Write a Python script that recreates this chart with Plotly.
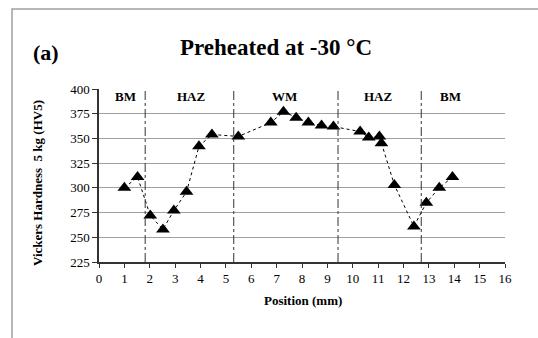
import plotly.graph_objects as go

position_mm = [1.0, 1.52, 2.02, 2.52, 2.95, 3.45, 3.94, 4.45, 5.49, 6.77, 7.27, 7.77, 8.25,
               8.77, 9.24, 10.29, 10.63, 11.05, 11.13, 11.64, 12.41, 12.9, 13.41, 13.93]
hardness_hv5 = [300, 311, 272, 258, 277, 296, 342, 354, 352, 366, 377, 371, 366,
                363, 362, 357, 351, 352, 345, 303, 261, 285, 300, 311]

zone_boundaries = [1.82, 5.31, 9.42, 12.7]
zone_labels = ["BM", "HAZ", "WM", "HAZ", "BM"]
zone_label_x = [1.06, 3.65, 7.3, 11.02, 13.86]

x_ticks = list(range(0, 17))
y_ticks = list(range(225, 401, 25))

FONT = "Liberation Serif, Times New Roman, serif"

# plot area in pixels
L, R, T, B = 99, 505, 89, 262
W, H = R - L, B - T


def px(xp):
    return (xp - L) / W


def py(yp):
    return 1 - (yp - T) / H


fig = go.Figure()
fig.add_trace(go.Scatter(
    x=position_mm, y=hardness_hv5, mode="lines+markers",
    line=dict(color="black", width=1, dash="dot"),
    marker=dict(symbol="triangle-up", size=12, color="black"),
    showlegend=False, hoverinfo="x+y",
))

for xb in zone_boundaries:
    fig.add_shape(type="line", x0=xb, x1=xb, y0=225, y1=400, xref="x", yref="y",
                  line=dict(color="#333333", width=1, dash="dashdot"))

for lbl, lx in zip(zone_labels, zone_label_x):
    fig.add_annotation(x=lx, y=392, text="<b>%s</b>" % lbl, showarrow=False,
                       xanchor="center", yanchor="middle",
                       font=dict(family=FONT, size=13, color="black"))


def label(x, y, text, size, angle=0):
    fig.add_annotation(x=px(x), y=py(y), xref="paper", yref="paper",
                       text=text, showarrow=False, textangle=angle,
                       xanchor="center", yanchor="middle",
                       font=dict(family=FONT, size=size, color="black"))


label(276, 47, "<b>Preheated at -30 °C</b>", 23)
label(45.5, 52, "<b>(a)</b>", 22)
label(37, 183, "<b>Vickers Hardness  5 kg (HV5)</b>", 13, -90)
label(303, 300.5, "<b>Position (mm)</b>", 13)

# outer frame
fig.add_shape(type="rect", xref="paper", yref="paper",
              x0=px(12), x1=px(545), y0=py(345), y1=py(9),
              line=dict(color="#a0a0a0", width=1.5), fillcolor="rgba(0,0,0,0)", layer="below")

fig.update_layout(
    width=538, height=338,
    margin=dict(l=L, r=538 - R, t=T, b=338 - B),
    paper_bgcolor="white", plot_bgcolor="white",
    font=dict(family=FONT, size=13, color="black"),
    xaxis=dict(range=[0, 16], tickvals=x_ticks, showgrid=False, zeroline=False,
               showline=True, linecolor="#333333", linewidth=1.5,
               ticks="outside", ticklen=4, tickcolor="#333333",
               tickfont=dict(family=FONT, size=13)),
    yaxis=dict(range=[225, 400], tickvals=y_ticks, showgrid=True, gridcolor="#a0a0a0",
               gridwidth=1, zeroline=False,
               showline=True, linecolor="#333333", linewidth=1.5,
               ticks="outside", ticklen=5, tickcolor="#333333",
               tickfont=dict(family=FONT, size=13)),
)

fig.write_html("out.html")
